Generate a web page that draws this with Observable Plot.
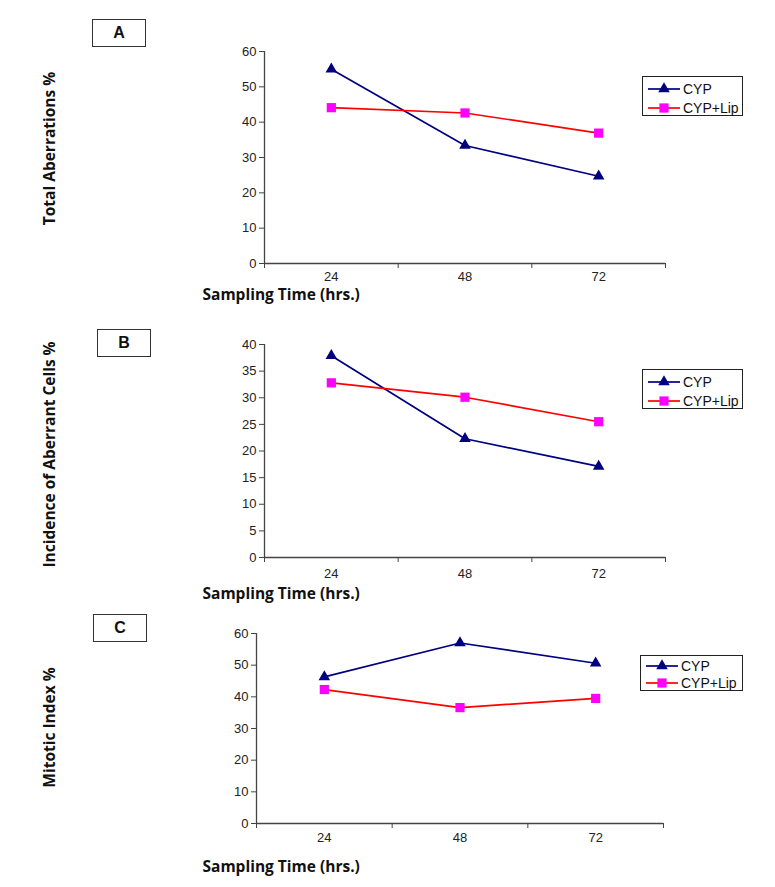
<!DOCTYPE html>
<html><head><meta charset="utf-8">
<script src="https://cdn.jsdelivr.net/npm/d3@7"></script>
<script src="https://cdn.jsdelivr.net/npm/@observablehq/plot@0.6"></script>
<style>
body{margin:0;background:#fff;}
#root{position:relative;width:775px;height:887px;overflow:hidden;font-family:"Liberation Sans",Arial,sans-serif;}
.panel{position:absolute;left:0;}
.tag{position:absolute;border:1.5px solid #333;box-sizing:border-box;width:54px;height:28px;display:flex;align-items:center;justify-content:center;font-weight:bold;font-size:16px;color:#111;}
.legend{position:absolute;border:1px solid #222;box-sizing:border-box;background:#fff;font-size:14px;color:#111;}
.legend .row{position:absolute;left:0;display:flex;align-items:center;height:16px;}
.legend svg{display:block;}
</style></head><body><div id="root"></div>
<script>
// ---- data ----
const times = ["24", "48", "72"];
const seriesNames = ["CYP", "CYP+Lip"];
const seriesColors = ["#000080", "#FF0000"];
const markerFills = ["#000080", "#FF00FF"];
const markerSymbols = ["triangle", "square"];
const panelTags = ["A", "B", "C"];
const yTitles = ["Total Aberrations %", "Incidence of Aberrant Cells %", "Mitotic Index %"];
const xTitle = "Sampling Time (hrs.)";
const totalAberrationsCYP = [55.0, 33.4, 24.7];
const totalAberrationsLip = [44.1, 42.6, 36.9];
const aberrantCellsCYP = [37.9, 22.3, 17.1];
const aberrantCellsLip = [32.8, 30.1, 25.5];
const mitoticIndexCYP = [46.3, 57.0, 50.6];
const mitoticIndexLip = [42.3, 36.6, 39.5];
const yTicksA = [0, 10, 20, 30, 40, 50, 60];
const yTicksB = [0, 5, 10, 15, 20, 25, 30, 35, 40];
const yTicksC = [0, 10, 20, 30, 40, 50, 60];

const panels = [
  {series: [totalAberrationsCYP, totalAberrationsLip], ticks: yTicksA, top: 0, height: 305, mt: 51, mb: 42, ml: 264, mr: 110,
   titleDy: 36, tickPad: 8, yTitleCenter: 148, tag: [92, 19], legend: [642, 76, 101, 40, [12, 31]]},
  {series: [aberrantCellsCYP, aberrantCellsLip], ticks: yTicksB, top: 305, height: 305, mt: 39, mb: 53, ml: 264, mr: 110,
   titleDy: 41, tickPad: 11, yTitleCenter: 149, tag: [97, 329], legend: [642, 369, 101, 40, [12, 31]]},
  {series: [mitoticIndexCYP, mitoticIndexLip], ticks: yTicksC, top: 610, height: 277, mt: 23, mb: 64, ml: 256, mr: 112,
   titleDy: 48, tickPad: 9, yTitleCenter: 117, tag: [93, 614], legend: [640, 655, 103, 36, [10, 27]]}
];

const root = document.getElementById("root");
const titleFont = "'Open Sans', sans-serif";
const symR = {triangle: 4.3, square: 5.2};

panels.forEach((p, k) => {
  const rows = [];
  p.series.forEach((vals, s) => times.forEach((t, i) => rows.push({s, name: seriesNames[s], x: i + 0.5, v: vals[i]})));
  const yMax = p.ticks[p.ticks.length - 1];
  const frameMid = (p.mt + (p.height - p.mb)) / 2;
  const marks = [
    Plot.ruleX([0], {stroke: "#444", strokeWidth: 1.3}),
    Plot.ruleY([0], {stroke: "#444", strokeWidth: 1.3}),
    Plot.axisY(p.ticks, {tickSize: 5, tickPadding: 3, label: null, stroke: "#444", fill: "#222"}),
    Plot.axisX([0, 1, 2, 3], {tickSize: 5, tickFormat: () => "", label: null, stroke: "#444"}),
    Plot.axisX([0.5, 1.5, 2.5], {tickSize: 0, tickPadding: p.tickPad, tickFormat: d => times[Math.floor(d)], label: null, fill: "#222"})
  ];
  seriesNames.forEach((n, s) => {
    const d = rows.filter(r => r.s === s);
    marks.push(Plot.line(d, {x: "x", y: "v", stroke: seriesColors[s], strokeWidth: 1.7}));
    marks.push(Plot.dot(d, {x: "x", y: "v", symbol: markerSymbols[s], fill: markerFills[s], stroke: "none", r: symR[markerSymbols[s]]}));
  });
  marks.push(Plot.text([yTitles[k]], {text: d => d, frameAnchor: "left", dx: -(p.ml - 50), dy: p.yTitleCenter - frameMid, rotate: -90,
    textAnchor: "middle", fontWeight: "bold", fontSize: 15.5, fontFamily: titleFont, fill: "#111"}));
  marks.push(Plot.text([xTitle], {text: d => d, frameAnchor: "bottom-left", dx: 202 - p.ml, dy: p.titleDy,
    textAnchor: "start", fontWeight: "bold", fontSize: 15.5, fontFamily: titleFont, fill: "#111"}));

  const chart = Plot.plot({
    width: 775, height: p.height,
    marginTop: p.mt, marginBottom: p.mb, marginLeft: p.ml, marginRight: p.mr,
    style: {fontFamily: "'Liberation Sans', Arial, sans-serif", fontSize: "13px", background: "transparent", overflow: "visible"},
    x: {domain: [0, 3], axis: null},
    y: {domain: [0, yMax], axis: null},
    marks
  });
  chart.classList.add("panel");
  chart.style.top = p.top + "px";
  root.appendChild(chart);

  // panel tag
  const tag = document.createElement("div");
  tag.className = "tag";
  tag.style.left = p.tag[0] + "px";
  tag.style.top = p.tag[1] + "px";
  tag.textContent = panelTags[k];
  root.appendChild(tag);

  // legend
  const [lx, ly, lw, lh, rowY] = p.legend;
  const leg = document.createElement("div");
  leg.className = "legend";
  Object.assign(leg.style, {left: lx + "px", top: ly + "px", width: lw + "px", height: lh + "px"});
  seriesNames.forEach((n, s) => {
    const row = document.createElement("div");
    row.className = "row";
    row.style.top = (rowY[s] - 8) + "px";
    const svg = d3.create("svg").attr("width", 40).attr("height", 16);
    svg.append("line").attr("x1", 5).attr("x2", 37).attr("y1", 8).attr("y2", 8).attr("stroke", seriesColors[s]).attr("stroke-width", 1.7);
    const r = symR[markerSymbols[s]];
    const sym = markerSymbols[s] === "triangle" ? d3.symbolTriangle : d3.symbolSquare;
    svg.append("path").attr("transform", "translate(21,8)").attr("d", d3.symbol(sym, Math.PI * r * r)()).attr("fill", markerFills[s]);
    row.appendChild(svg.node());
    const sp = document.createElement("span");
    sp.textContent = n;
    row.appendChild(sp);
    leg.appendChild(row);
  });
  root.appendChild(leg);
});
</script></body></html>
